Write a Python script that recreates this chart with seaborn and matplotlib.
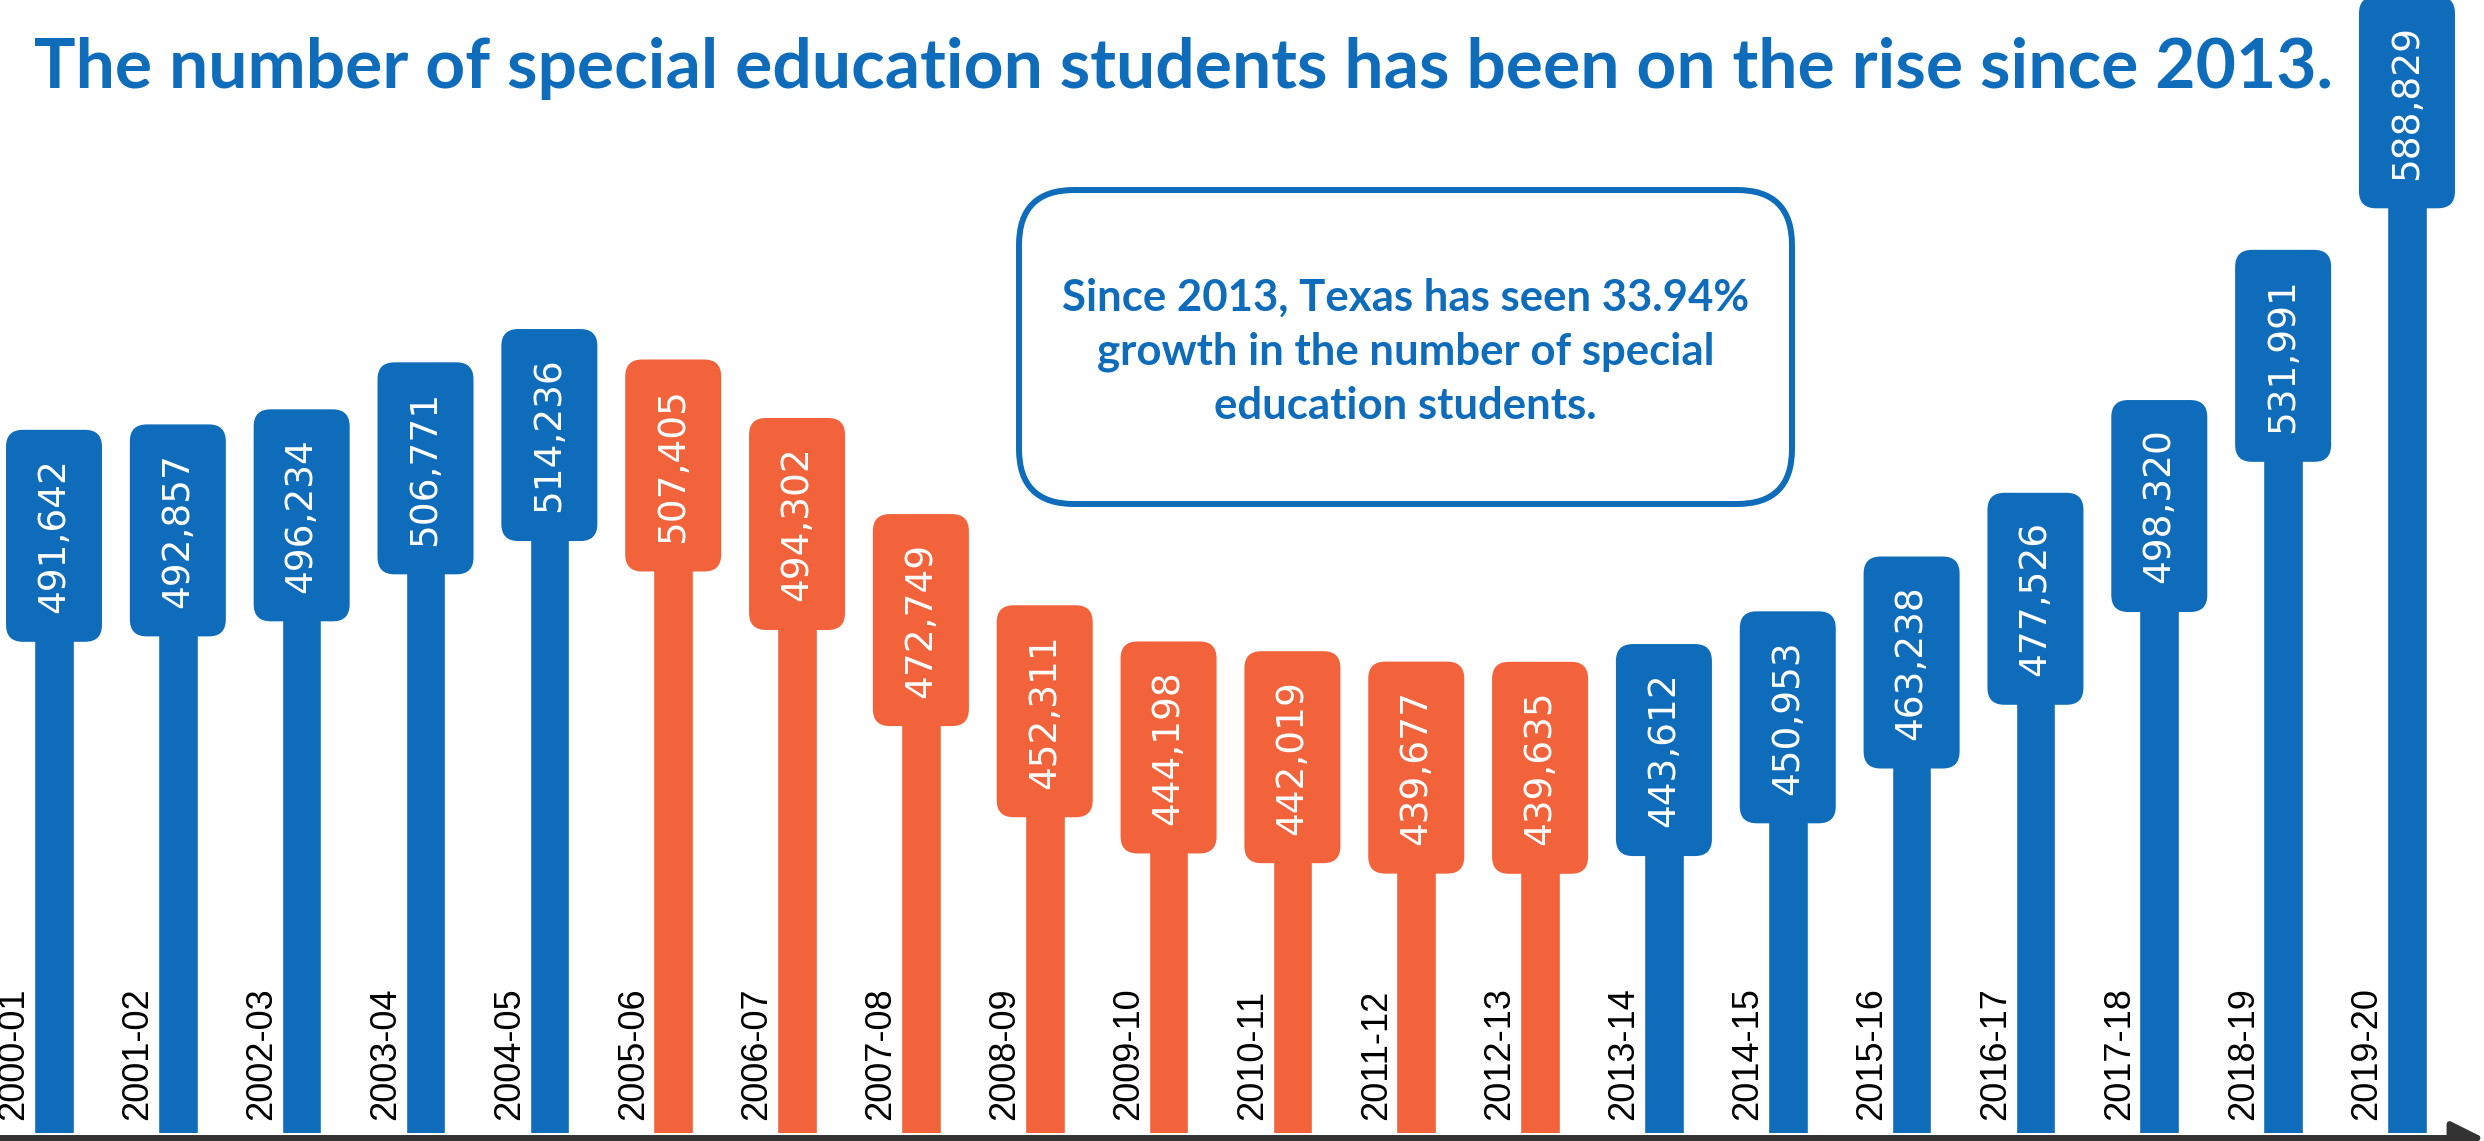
import matplotlib
matplotlib.use("Agg")
import matplotlib.pyplot as plt
import pandas as pd
import seaborn as sns
from matplotlib.patches import FancyBboxPatch

# School years and special education enrollment
years = ["2000-01", "2001-02", "2002-03", "2003-04", "2004-05", "2005-06",
         "2006-07", "2007-08", "2008-09", "2009-10", "2010-11", "2011-12",
         "2012-13", "2013-14", "2014-15", "2015-16", "2016-17", "2017-18",
         "2018-19", "2019-20"]
students = [491642, 492857, 496234, 506771, 514236, 507405, 494302, 472749,
            452311, 444198, 442019, 439677, 439635, 443612, 450953, 463238,
            477526, 498320, 531991, 588829]
trend = ["rise"] * 5 + ["decline"] * 8 + ["rise"] * 7

title = "The number of special education students has been on the rise since 2013."
callout = ("Since 2013, Texas has seen 33.94%\n"
           "growth in the number of special\n"
           "education students.")

BLUE = "#0F6CBA"
ORANGE = "#F2623B"
AXIS = "#333333"

sns.set_theme(style="white")
plt.rcParams["font.family"] = ["DejaVu Sans"]

W, H = 2484, 1141
fig = plt.figure(figsize=(W / 100, H / 100), dpi=100)
ax_bottom_px = 8
ax_h_px = 1133
ax = fig.add_axes([0, ax_bottom_px / H, 1, ax_h_px / H])

df = pd.DataFrame({"year": years, "students": students, "trend": trend})
sns.barplot(data=df, x="year", y="students", hue="trend",
            palette={"rise": BLUE, "decline": ORANGE}, width=0.32,
            dodge=False, legend=False, saturation=1, ax=ax)

YMIN, YMAX = 334000, 588000
XMIN, XMAX = -0.436, 19.622
ax.set_ylim(YMIN, YMAX)
ax.set_xlim(XMIN, XMAX)
ax.set_axis_off()

# data units per pixel
y_per_px = (YMAX - YMIN) / ax_h_px
x_per_px = (XMAX - XMIN) / W
aspect = y_per_px / x_per_px

box_w = 96 * x_per_px
box_h = 212 * y_per_px
corner = 17 * x_per_px

palette = {"rise": BLUE, "decline": ORANGE}
for i, (v, t) in enumerate(zip(students, trend)):
    patch = FancyBboxPatch((i - box_w / 2, v - box_h), box_w, box_h,
                           boxstyle=f"round,pad=0,rounding_size={corner}",
                           mutation_aspect=aspect, fc=palette[t], ec="none",
                           clip_on=False, zorder=3)
    ax.add_patch(patch)
    ax.text(i, v - box_h / 2, f"{v:,}", rotation=90, ha="center", va="center",
            color="white", fontsize=27, family="DejaVu Sans", zorder=4,
            clip_on=False)
    ax.text(i - 40 * x_per_px, 13 / ax_h_px, years[i], rotation=90,
            ha="center", va="bottom", color="black", fontsize=26,
            family="Liberation Sans", transform=ax.get_xaxis_transform(),
            zorder=4)

# baseline with arrow head
ax.annotate("", xy=(1.0, -5 / ax_h_px), xytext=(0.0, -5 / ax_h_px),
            xycoords="axes fraction", textcoords="axes fraction",
            arrowprops=dict(arrowstyle="-|>,head_length=1.0,head_width=0.5",
                            lw=4.3, color=AXIS, mutation_scale=20,
                            shrinkA=0, shrinkB=0),
            annotation_clip=False)

# title
fig.text(1184 / W, 1 - 88 / H, title, ha="center", va="baseline",
         fontsize=50, fontweight="bold", family="Lato", color=BLUE)

# callout box
bx0, by0, bx1, by1 = 1019, 190, 1792, 504
fig_aspect = (1 / H) / (1 / W)
callout_box = FancyBboxPatch((bx0 / W, 1 - by1 / H), (bx1 - bx0) / W,
                             (by1 - by0) / H,
                             boxstyle=f"round,pad=0,rounding_size={55 / W}",
                             mutation_aspect=fig_aspect,
                             transform=fig.transFigure, fc="white", ec=BLUE,
                             lw=4.3, zorder=5)
fig.patches.append(callout_box)
fig.text((bx0 + bx1) / 2 / W, 1 - 352 / H, callout, ha="center", va="center",
         multialignment="center", fontsize=31.5, fontweight="bold",
         family="Lato", color=BLUE, linespacing=1.42, zorder=6)

fig.savefig("out.png", dpi=100, facecolor="white")
